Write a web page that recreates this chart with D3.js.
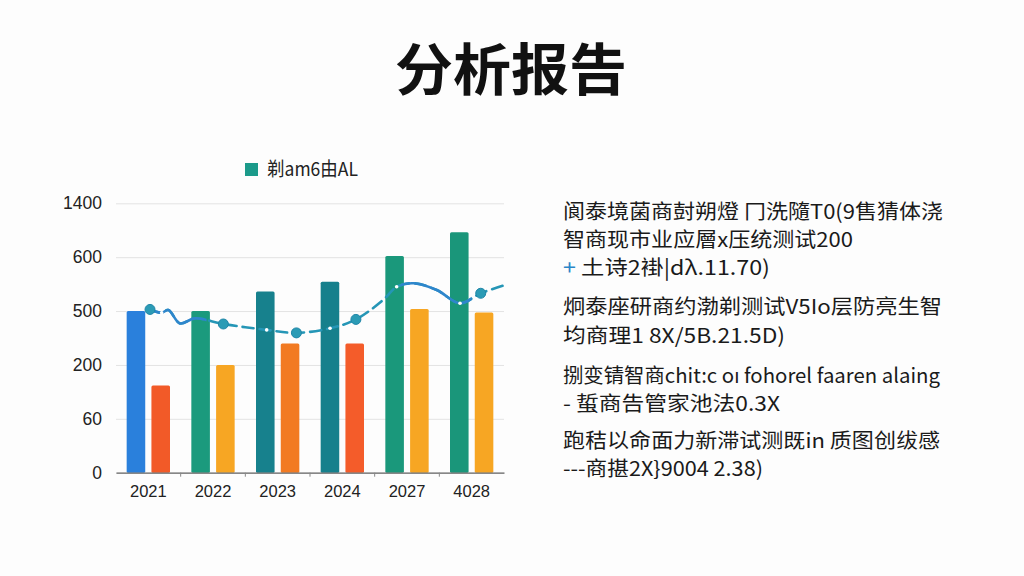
<!DOCTYPE html>
<html><head><meta charset="utf-8">
<script src="https://cdn.jsdelivr.net/npm/d3@7"></script>
<style>
html,body{margin:0;padding:0;background:#fdfdfd;}
svg{display:block;font-family:"Noto Sans CJK SC","Noto Sans",sans-serif;}
</style></head>
<body>
<svg id="c" width="1024" height="576"></svg>
<script>
const title = "分析报告";
const legendLabel = "剃am6由AL";
const categories = ["2021","2022","2023","2024","2027","4028"];
const seriesA = [600, 600, 673, 709, 804, 893];
const seriesB = [324, 400, 480, 480, 608, 595];
const colorsA = ["#2a80dc","#1b9a7d","#17818d","#16808c","#1a987b","#1a967a"];
const colorsB = ["#f25a28","#f7a623","#f27a22","#f45c2a","#f7a623","#f7a623"];
const yTickValues = [0, 200, 400, 600, 800, 1000];
const yTickLabels = ["0","60","200","500","600","1400"];
// trend line: position in category units, value
const linePos = [0.526,0.706,0.81,0.99,1.22,1.66,2.33,2.79,3.31,3.71,4.13,4.34,4.6,4.96,5.32,5.64,6.02];
const lineVal = [606,594,604,554,573,552,530,519,536,569,641,690,703,678,629,666,697];
const circlePos = [0.526,1.66,2.79,3.71,5.64];
const circleVal = [606,552,519,569,666];
const whiteDotPos = [0.706,2.33,3.31,4.34,5.32];
const whiteDotVal = [594,530,536,690,629];
const solidRanges = [[0.5,1.4],[4.4,5.5]];
const noteLines = [
  "阆泰境菌商尌朔燈 冂洗隨T0(9售猜体浇",
  "智商现市业应層x压统测试200",
  "土诗2褂|dλ.11.70)",
  "炯泰座研商约渤剃测试V5Io层防亮生智",
  "均商理1 8X/5B.21.5D)",
  "捌变锖智商chit:c oı fohorel faaren alaing",
  "- 蜇商告管家池法0.3X",
  "跑秸以命面力新滞试测既in 质图创绂感",
  "---商揕2X}9004 2.38)"
];
const noteMarkers = ["","","+","","","","","",""];

// layout (not data)
const noteY = [219, 247, 275, 314, 343, 383, 411, 448, 476];
const noteW = [380, 290, 207, 379, 222, 377, 217, 377, 200];

const svg = d3.select("#c");
const pLeft = 116, pRight = 504, pTop = 203.3, pBottom = 472.7;

svg.append("text").attr("x", 511).attr("y", 90).attr("text-anchor","middle")
  .attr("font-size", 56).attr("font-weight", 700).attr("fill","#111")
  .attr("textLength", 232).attr("lengthAdjust","spacingAndGlyphs").text(title);

const x = d3.scaleBand().domain(categories).range([pLeft, pRight]).paddingInner(0.33).paddingOuter(0.165);
const x1 = d3.scaleBand().domain(["a","b"]).range([0, x.bandwidth()]).paddingInner(0.25);
const y = d3.scaleLinear().domain([0, 1000]).range([pBottom, pTop]);
const xl = d3.scaleLinear().domain([0, 6]).range([pLeft, pRight]);

// grid + y labels
const gy = svg.append("g").attr("transform", `translate(${pLeft},0)`)
  .call(d3.axisLeft(y).tickValues(yTickValues).tickFormat((d,i)=>yTickLabels[i]).tickSize(-(pRight-pLeft)).tickPadding(14));
gy.select(".domain").remove();
gy.selectAll(".tick line").attr("stroke","#e3e3e3").attr("stroke-width",1);
gy.selectAll(".tick text").attr("font-size",17.5).attr("fill","#222").attr("font-family","Liberation Sans, Arial, sans-serif");

// bars
const groups = svg.append("g").selectAll("g").data(categories).join("g")
  .attr("transform", d => `translate(${x(d)},0)`);
groups.append("rect").attr("x", x1("a")).attr("width", x1.bandwidth())
  .attr("y", (d,i)=>y(seriesA[i])).attr("height",(d,i)=>y(0)-y(seriesA[i]))
  .attr("fill",(d,i)=>colorsA[i]).attr("rx",1.5);
groups.append("rect").attr("x", x1("b")).attr("width", x1.bandwidth())
  .attr("y", (d,i)=>y(seriesB[i])).attr("height",(d,i)=>y(0)-y(seriesB[i]))
  .attr("fill",(d,i)=>colorsB[i]).attr("rx",1.5);

// x axis
const gx = svg.append("g").attr("transform", `translate(0,${pBottom})`)
  .call(d3.axisBottom(x).tickSize(0).tickPadding(13));
gx.select(".domain").attr("stroke","#666").attr("stroke-width",1.3);
gx.selectAll(".tick text").attr("font-size",16.5).attr("fill","#222").attr("font-family","Liberation Sans, Arial, sans-serif");
svg.append("g").selectAll("line").data([1,2,3,4,5]).join("line")
  .attr("x1", d=>xl(d)).attr("x2", d=>xl(d)).attr("y1", pBottom).attr("y2", pBottom+4)
  .attr("stroke","#888").attr("stroke-width",1);

// trend line
const pts = linePos.map((p,i)=>[xl(p), y(lineVal[i])]);
const lineGen = d3.line().curve(d3.curveCatmullRom.alpha(0.5));
svg.append("path").attr("d", lineGen(pts)).attr("fill","none")
  .attr("stroke","#2596b6").attr("stroke-width",2.6).attr("stroke-dasharray","11,6").attr("stroke-linecap","round");
const defs = svg.append("defs");
solidRanges.forEach((r,i)=>{
  defs.append("clipPath").attr("id","clip"+i).append("rect")
    .attr("x", xl(r[0])).attr("width", xl(r[1])-xl(r[0])).attr("y", 0).attr("height", 576);
  svg.append("path").attr("d", lineGen(pts)).attr("fill","none").attr("clip-path",`url(#clip${i})`)
    .attr("stroke","#2e86cc").attr("stroke-width",2.6);
});
svg.append("g").selectAll("circle").data(whiteDotPos).join("circle")
  .attr("cx",(d)=>xl(d)).attr("cy",(d,i)=>y(whiteDotVal[i])).attr("r",1.8).attr("fill","#fff");
svg.append("g").selectAll("circle").data(circlePos).join("circle")
  .attr("cx",(d)=>xl(d)).attr("cy",(d,i)=>y(circleVal[i])).attr("r",5)
  .attr("fill","#2b9bb5").attr("stroke","#1f86a8").attr("stroke-width",1);

// legend
svg.append("rect").attr("x",245).attr("y",163).attr("width",13).attr("height",13).attr("fill","#1b9a8a");
svg.append("text").attr("x",267).attr("y",176).attr("font-size",19).attr("fill","#222")
  .attr("textLength",91).attr("lengthAdjust","spacingAndGlyphs").text(legendLabel);

// notes on the right
const notes = svg.append("g");
noteLines.forEach((t,i)=>{
  const tx = notes.append("text").attr("x",563).attr("y",noteY[i]).attr("font-size",20.5).attr("fill","#1a1a1a")
    .attr("textLength", noteW[i]).attr("lengthAdjust","spacingAndGlyphs");
  if (noteMarkers[i]) {
    tx.append("tspan").attr("fill","#2a86c8").text(noteMarkers[i] + " ");
  }
  tx.append("tspan").text(t);
});
</script>
</body></html>
